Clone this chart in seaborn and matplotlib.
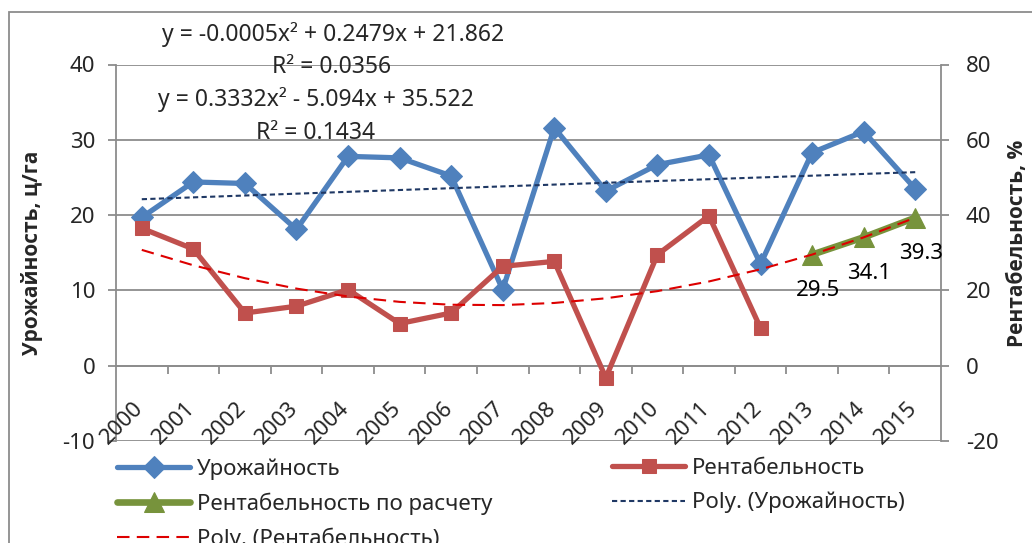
import numpy as np
import pandas as pd
import matplotlib
matplotlib.use("Agg")
import matplotlib.pyplot as plt
from matplotlib.patches import Rectangle
import seaborn as sns

# --- data ---
years = [str(y) for y in range(2000, 2016)]
yield_vals = [19.7, 24.4, 24.2, 18.1, 27.8, 27.6, 25.2, 10.1,
              31.6, 23.2, 26.7, 28.0, 13.5, 28.3, 31.1, 23.5]
profit_years = years[:13]
profit_vals = [36.5, 31.0, 14.0, 15.8, 20.2, 11.2, 14.0, 26.4,
               27.7, -3.2, 29.5, 39.8, 10.0]
forecast_years = ["2013", "2014", "2015"]
forecast_vals = [29.5, 34.1, 39.3]
# trendline equations as printed on the chart (x = 1..16)
yield_trend_coef = [-0.0005, 0.2479, 21.862]
yield_trend_r2 = 0.0356
profit_trend_coef = [0.3332, -5.094, 35.522]
profit_trend_r2 = 0.1434

C_BLUE = "#4F81BD"
C_RED = "#C0504D"
C_GREEN = "#77933C"
C_NAVY = "#1F3864"
C_TREND_RED = "#DD0000"
C_GRID = "#8C8C8C"
BOLD_FONT = ["Open Sans", "DejaVu Sans"]

sns.set_theme(style="white")
plt.rcParams["font.family"] = ["Noto Sans", "DejaVu Sans"]
plt.rcParams["font.size"] = 16
plt.rcParams["axes.unicode_minus"] = False

pos = {y: i for i, y in enumerate(years)}
df_yield = pd.DataFrame({"x": [pos[y] for y in years], "v": yield_vals})
df_profit = pd.DataFrame({"x": [pos[y] for y in profit_years], "v": profit_vals})
df_fc = pd.DataFrame({"x": [pos[y] for y in forecast_years], "v": forecast_vals})
trend_x = np.arange(1, len(years) + 1)
df_trend = pd.DataFrame({
    "x": trend_x - 1,
    "yld": np.polyval(yield_trend_coef, trend_x),
    "prf": np.polyval(profit_trend_coef, trend_x),
})

W, H = 1032, 543
fig = plt.figure(figsize=(W / 100, H / 100), dpi=100)
L, R, T, B = 116, 941, 64.5, 441
ax = fig.add_axes([L / W, 1 - B / H, (R - L) / W, (B - T) / H])
ax2 = ax.twinx()

# left axis: yield
sns.lineplot(data=df_yield, x="x", y="v", ax=ax, color=C_BLUE, lw=3.8,
             marker="D", ms=11, mec=C_BLUE, label="Урожайность", zorder=3)
sns.lineplot(data=df_trend, x="x", y="yld", ax=ax, color=C_NAVY, lw=1.5,
             label="Poly. (Урожайность)", zorder=4)
ax.lines[-1].set_dashes((2.5, 1.6))

# right axis: profitability
sns.lineplot(data=df_profit, x="x", y="v", ax=ax2, color=C_RED, lw=3.8,
             marker="s", ms=9.5, mec=C_RED, label="Рентабельность", zorder=3)
sns.lineplot(data=df_fc, x="x", y="v", ax=ax2, color=C_GREEN, lw=4.8,
             marker="^", ms=15, mec=C_GREEN, label="Рентабельность по расчету",
             zorder=4)
sns.lineplot(data=df_trend, x="x", y="prf", ax=ax2, color=C_TREND_RED, lw=1.5,
             label="Poly. (Рентабельность)", zorder=5)
ax2.lines[-1].set_dashes((6, 3.5))

for xv, v in zip(df_fc["x"], df_fc["v"]):
    ax2.annotate(f"{v:.1f}", xy=(xv, v), xytext=(4, -26),
                 textcoords="offset points", ha="center", va="center",
                 fontsize=16, color="black")

# axes styling
ax.set_xlim(-0.5, len(years) - 0.5)
ax.set_ylim(-10, 40)
ax.set_yticks(range(-10, 41, 10))
ax2.set_ylim(-20, 80)
ax2.set_yticks(range(-20, 81, 20))

ax.yaxis.grid(True, color=C_GRID, lw=1.3)
ax.set_axisbelow(True)
ax2.grid(False)

for s in ["top", "right"]:
    ax.spines[s].set_visible(False)
for s in ["top", "bottom", "left"]:
    ax2.spines[s].set_visible(False)
ax.spines["left"].set_color(C_GRID)
ax.spines["left"].set_linewidth(1.3)
ax.spines["bottom"].set_position(("data", 0))
ax.spines["bottom"].set_color(C_GRID)
ax.spines["bottom"].set_linewidth(1.3)
ax2.spines["right"].set_color(C_GRID)
ax2.spines["right"].set_linewidth(1.3)

ax.tick_params(axis="y", direction="out", length=6, width=1.3, color=C_GRID,
               pad=9, labelsize=16, left=True)
ax2.tick_params(axis="y", direction="out", length=6, width=1.3, color=C_GRID,
                pad=12, labelsize=16, right=True)

# category axis crosses at 0: boundary tick marks, rotated year labels
ax.set_xticks(range(len(years)))
ax.set_xticklabels([])
ax.set_xticks(np.arange(0.5, len(years) - 1, 1.0), minor=True)
ax.tick_params(axis="x", which="major", length=0, pad=0)
ax.tick_params(axis="x", which="minor", direction="out", length=5.5,
               width=1.3, color=C_GRID, bottom=True)
for i, y in enumerate(years):
    ax.text(i - 0.38, -7.6, y, rotation=45, ha="center", va="center",
            fontsize=16)

ax.set_xlabel("")
ax.set_ylabel("Урожайность, ц/га", fontsize=15, fontweight="bold",
              family=BOLD_FONT)
ax.yaxis.set_label_coords(-0.088, 0.5)
ax2.set_ylabel("Рентабельность, %", fontsize=15, fontweight="bold",
               family=BOLD_FONT)
ax2.yaxis.set_label_coords(1.080, 0.526)

# trendline equations
def eq_text(c):
    parts = [f"{c[0]:g}x²"]
    parts.append(("+ " if c[1] >= 0 else "- ") + f"{abs(c[1]):g}x")
    parts.append(("+ " if c[2] >= 0 else "- ") + f"{abs(c[2]):g}")
    return "y = " + " ".join(parts)

fig.text(333 / W, 1 - 35 / H, eq_text(yield_trend_coef), ha="center",
         va="center", fontsize=16.5)
fig.text(332 / W, 1 - 67 / H, f"R² = {yield_trend_r2:.4f}", ha="center",
         va="center", fontsize=16.5)
fig.text(316 / W, 1 - 100 / H, eq_text(profit_trend_coef), ha="center",
         va="center", fontsize=16.5)
fig.text(316 / W, 1 - 133 / H, f"R² = {profit_trend_r2:.4f}", ha="center",
         va="center", fontsize=16.5)

# legend in two blocks (row-major order as in the original)
h1, l1 = ax.get_legend_handles_labels()
h2, l2 = ax2.get_legend_handles_labels()
for a in (ax, ax2):
    if a.get_legend() is not None:
        a.get_legend().remove()
hd = dict(zip(l1 + l2, h1 + h2))
col1 = ["Урожайность", "Рентабельность по расчету", "Poly. (Рентабельность)"]
col2 = ["Рентабельность", "Poly. (Урожайность)"]
leg_kw = dict(loc="upper left", frameon=False, fontsize=16, borderpad=0,
              borderaxespad=0, handlelength=3.3, handletextpad=0.3,
              labelspacing=0.58, numpoints=1)
fig.legend([hd[k] for k in col1], col1,
           bbox_to_anchor=(117 / W, 1 - 458 / H), **leg_kw)
fig.legend([hd[k] for k in col2], col2,
           bbox_to_anchor=(612 / W, 1 - 458 / H), **leg_kw)

# outer chart border
fig.patches.append(Rectangle((9 / W, -0.1), 1.2, 1.1 - 12.5 / H,
                             transform=fig.transFigure, fill=False,
                             ec=C_GRID, lw=1.3))

fig.savefig("out.png", dpi=100)
